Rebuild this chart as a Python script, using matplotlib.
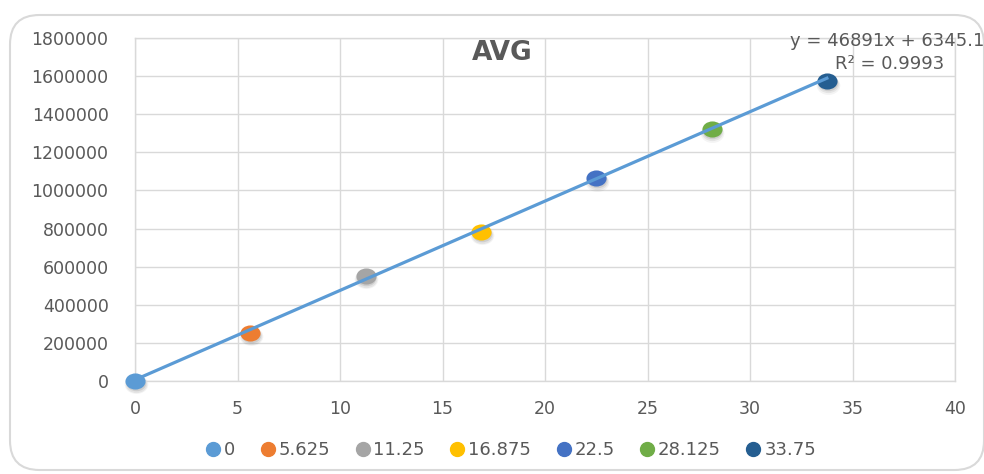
import numpy as np
import matplotlib
matplotlib.use("Agg")
import matplotlib.pyplot as plt
from matplotlib.patches import FancyBboxPatch
from matplotlib.path import Path
from matplotlib.lines import Line2D
from matplotlib.ticker import StrMethodFormatter
from matplotlib.transforms import Affine2D, offset_copy

# concentrations and averaged peak areas
conc = [0, 5.625, 11.25, 16.875, 22.5, 28.125, 33.75]
labels = ["0", "5.625", "11.25", "16.875", "22.5", "28.125", "33.75"]
avg = [0, 252000, 551000, 783000, 1065000, 1322000, 1574000]
colors = ["#5B9BD5", "#ED7D31", "#A5A5A5", "#FFC000", "#4472C4", "#70AD47", "#255E91"]

# linear trendline as reported
slope = 46891
intercept = 6345.1
r2 = 0.9993

grey = "#595959"
plt.rcParams["font.family"] = "DejaVu Sans"

fig = plt.figure(figsize=(9.84, 4.74), dpi=100)

# chart frame with rounded corners, kept behind the axes
frame = FancyBboxPatch((10 / 984, 4 / 474), 974 / 984, 455 / 474,
                       boxstyle="round,pad=0,rounding_size=0.03",
                       transform=fig.transFigure, facecolor="white",
                       edgecolor="#D9D9D9", linewidth=1.5, mutation_aspect=2.07,
                       zorder=-10)
fig.patches.append(frame)

ax = fig.add_axes([135 / 984, 93 / 474, 820 / 984, 343 / 474])
ax.patch.set_alpha(0)
ax.set_xlim(0, 40)
ax.set_ylim(0, 1800000)
ax.set_xticks(np.arange(0, 41, 5))
ax.set_yticks(np.arange(0, 1800001, 200000))
ax.yaxis.set_major_formatter(StrMethodFormatter("{x:.0f}"))
ax.grid(True, color="#D9D9D9", linewidth=1)
ax.set_axisbelow(True)
for s in ax.spines.values():
    s.set_color("#D9D9D9")
    s.set_linewidth(1)
ax.tick_params(length=0, colors=grey, labelsize=12.5, pad=14)
ax.tick_params(axis="y", pad=19)

# elliptical markers with a soft drop shadow
ell = Path.unit_circle().transformed(Affine2D().scale(1.25, 1.0))
for i in range(len(conc)):
    for k, a in enumerate([0.05, 0.08, 0.12]):
        sh = offset_copy(ax.transData, fig=fig, x=0.5, y=-2.5 + k * 0.4, units="points")
        ax.plot(conc[i], avg[i], marker=ell, markersize=17 - k * 1.5, color="#303030",
                alpha=a, markeredgewidth=0, linestyle="none", transform=sh,
                zorder=2.5, clip_on=False)
    ax.plot(conc[i], avg[i], marker=ell, markersize=14.5, color=colors[i],
            markeredgewidth=0, linestyle="none", zorder=3, clip_on=False)

# trendline sits on top of the markers
xs = np.array([conc[0], conc[-1]])
ax.plot(xs, slope * xs + intercept, color="#5B9BD5", linewidth=2.3, zorder=4,
        clip_on=False)

fig.text(502 / 984, 1 - 53 / 474, "AVG", ha="center", va="center",
         fontsize=19, fontweight="bold", color=grey)

fig.text(790 / 984, 1 - 41 / 474, "y = %dx + %.1f" % (slope, intercept),
         ha="left", va="center", fontsize=13, color=grey)
fig.text(890 / 984, 1 - 64 / 474, "R² = %.4f" % r2,
         ha="center", va="center", fontsize=13, color=grey)

handles = [Line2D([], [], marker="o", linestyle="none", markersize=10,
                  color=c) for c in colors]
fig.legend(handles, labels, loc="center", bbox_to_anchor=(510 / 984, 1 - 450 / 474),
           ncol=7, frameon=False, fontsize=13, handletextpad=0.1,
           columnspacing=1.3, handlelength=1.0, labelcolor=grey)

fig.savefig("out.png", dpi=100)
